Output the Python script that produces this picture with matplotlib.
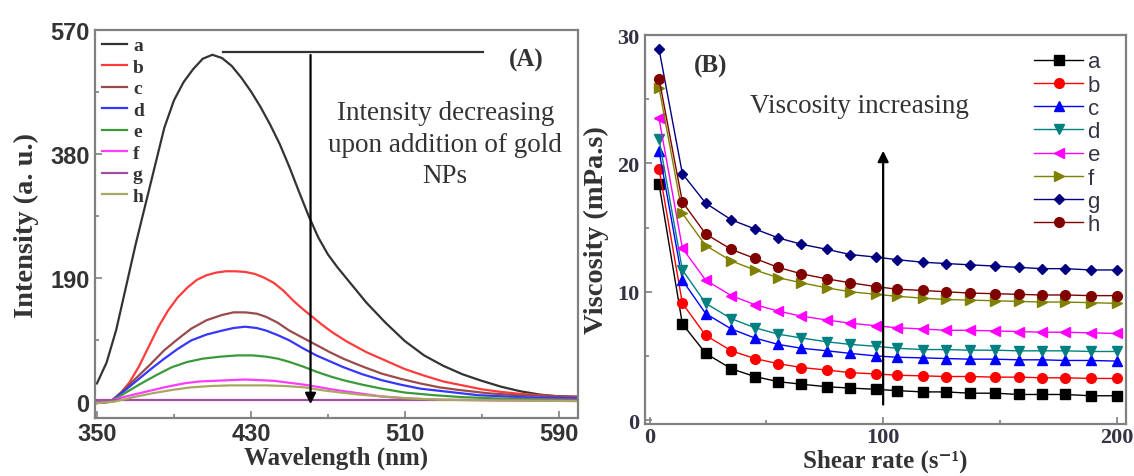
import matplotlib
matplotlib.use('Agg')
import matplotlib.pyplot as plt
from matplotlib.ticker import MultipleLocator

# panel A: emission spectra
wl_a = [350, 355, 360, 365, 370, 375, 380, 385, 390, 395, 400, 405, 410, 415, 420, 425, 430, 435,
        440, 445, 450, 455, 460, 465, 470, 475, 480, 490, 500, 510, 520, 530, 540, 550, 560, 570,
        580, 590, 600]
int_a = [28, 60, 110, 175, 240, 300, 360, 420, 462, 490, 510, 526, 532, 527, 515, 497, 476, 452,
         425, 395, 360, 322, 285, 252, 226, 206, 188, 152, 121, 93, 71, 55, 42, 32, 23, 16,
         11, 8, 5]
wl_b = [350, 357, 362, 367, 372, 377, 382, 387, 392, 397, 402, 407, 412, 417, 422, 427, 432, 437,
        442, 447, 452, 457, 462, 467, 472, 480, 490, 500, 510, 520, 530, 540, 550, 560, 570, 580,
        590, 600]
int_b = [-2, 0, 12, 30, 55, 85, 115, 140, 160, 175, 187, 194, 198, 200, 200, 199, 196, 190,
         182, 170, 155, 142, 130, 118, 107, 92, 76, 63, 50, 40, 31, 25, 19, 15, 12, 10,
         8, 6]
wl_c = [350, 357, 364, 371, 378, 385, 392, 399, 407, 415, 421, 427, 433, 438, 444, 450, 457, 464,
        471, 478, 488, 498, 508, 518, 528, 538, 553, 568, 585, 600]
int_c = [-2, 0, 18, 38, 58, 79, 96, 112, 125, 133, 137, 137, 135, 130, 121, 109, 98, 87,
         76, 66, 54, 43, 35, 28, 22, 18, 13, 10, 9, 8]
wl_d = [350, 357, 364, 371, 378, 385, 392, 399, 407, 415, 421, 427, 433, 438, 444, 450, 457, 464,
        471, 478, 488, 498, 508, 518, 533, 548, 570, 600]
int_d = [-2, 0, 16, 33, 50, 66, 81, 94, 103, 109, 113, 115, 113, 109, 102, 94, 82, 71,
         62, 53, 42, 33, 26, 20, 15, 10, 7, 5]
wl_e = [350, 357, 365, 373, 381, 389, 397, 405, 414, 423, 431, 438, 444, 450, 457, 464, 471, 478,
        488, 498, 510, 525, 540, 558, 600]
int_e = [-2, 0, 14, 28, 41, 53, 61, 66, 69, 71, 71, 69, 66, 61, 54, 46, 39, 33,
         26, 20, 14, 10, 7, 5, 3]
wl_f = [350, 355, 365, 375, 385, 395, 403, 411, 419, 427, 435, 442, 450, 458, 466, 474, 486, 498,
        512, 528, 560, 600]
int_f = [-2, 0, 8, 15, 22, 28, 31, 32, 33, 34, 33, 32, 29, 26, 22, 18, 13, 8,
         5, 3, 2, 1]
wl_g = [350, 600]
int_g = [2, 2]
wl_h = [350, 359, 369, 379, 389, 399, 409, 419, 429, 438, 448, 458, 466, 474, 486, 498, 512, 528,
        560, 600]
int_h = [-2, 0, 7, 13, 18, 22, 24, 25, 25, 25, 24, 22, 18, 15, 11, 8, 5, 3,
         2, 1]

spec_labels = ['a', 'b', 'c', 'd', 'e', 'f', 'g', 'h']
spec_colors = ['#333333', '#ff3b3b', '#9a4a4a', '#3636ff', '#3a9a3a', '#ff3cff', '#a050a0', '#a8a860']
wl_ticks = [350, 430, 510, 590]
int_ticks = [0, 190, 380, 570]

# panel B: viscosity vs shear rate
shear = [4, 14, 24, 35, 45, 55, 65, 76, 86, 97, 106, 117, 127, 137, 148, 158, 168, 178, 189, 200]
visc_a = [18.4, 7.5, 5.2, 4.0, 3.4, 3.0, 2.8, 2.6, 2.5, 2.4, 2.3, 2.2, 2.2, 2.1, 2.1, 2.0, 2.0, 2.0, 1.9, 1.9]
visc_b = [19.6, 9.1, 6.6, 5.4, 4.8, 4.4, 4.1, 3.9, 3.7, 3.6, 3.5, 3.45, 3.4, 3.4, 3.35, 3.35, 3.3, 3.3, 3.25, 3.25]
visc_c = [21.0, 10.9, 8.3, 7.1, 6.4, 5.9, 5.6, 5.4, 5.2, 5.0, 4.9, 4.85, 4.8, 4.75, 4.75, 4.7, 4.7, 4.65, 4.65, 4.6]
visc_d = [21.9, 11.7, 9.1, 7.9, 7.2, 6.7, 6.4, 6.1, 5.9, 5.75, 5.6, 5.5, 5.5, 5.45, 5.45, 5.4, 5.4, 5.4, 5.35, 5.35]
visc_e = [23.5, 13.4, 10.9, 9.7, 9.0, 8.5, 8.1, 7.8, 7.55, 7.35, 7.2, 7.1, 7.0, 7.0, 6.95, 6.9, 6.85, 6.85, 6.8, 6.75]
visc_f = [25.9, 16.1, 13.6, 12.4, 11.7, 11.1, 10.7, 10.3, 10.0, 9.8, 9.65, 9.5, 9.4, 9.35, 9.3, 9.25, 9.2, 9.2, 9.15, 9.1]
visc_g = [28.9, 19.2, 16.9, 15.6, 14.9, 14.2, 13.7, 13.3, 12.9, 12.7, 12.5, 12.3, 12.2, 12.1, 12.0, 11.9, 11.8, 11.8, 11.7, 11.7]
visc_h = [26.6, 17.0, 14.5, 13.3, 12.6, 11.9, 11.4, 11.0, 10.7, 10.4, 10.2, 10.1, 10.0, 9.9, 9.85, 9.8, 9.75, 9.75, 9.7, 9.7]

visc_colors = ['black', 'red', 'blue', '#008080', 'magenta', '#808000', '#000080', '#800000']
visc_markers = ['s', 'o', '^', 'v', '<', '>', 'D', 'o']

serif = 'Liberation Serif'
sans = 'Liberation Sans'
spine_col = '#808080'

fig = plt.figure(figsize=(11.34, 4.77), dpi=100)
ax1 = fig.add_axes([0.0838, 0.1216, 0.4259, 0.8134])
ax2 = fig.add_axes([0.5688, 0.109, 0.4241, 0.8155])

for ax in (ax1, ax2):
    for s in ax.spines.values():
        s.set_color(spine_col)
        s.set_linewidth(1.6)
    ax.tick_params(which='both', direction='in', color=spine_col, width=1.2,
                   top=False, right=False)
    ax.tick_params(which='major', length=5)
    ax.tick_params(which='minor', length=3)

# ---- panel A ----
spectra = [(wl_a, int_a), (wl_b, int_b), (wl_c, int_c), (wl_d, int_d),
           (wl_e, int_e), (wl_f, int_f), (wl_g, int_g), (wl_h, int_h)]
for (x, y), lab, col in zip(spectra, spec_labels, spec_colors):
    ax1.plot(x, y, color=col, lw=1.6, label=lab)

ax1.set_xlim(349, 600)
ax1.set_ylim(-25, 570)
ax1.set_xticks(wl_ticks)
ax1.set_xticks([390, 470, 550], minor=True)
ax1.set_yticks(int_ticks)
ax1.set_yticks([95, 285, 475], minor=True)
for lab in ax1.get_xticklabels() + ax1.get_yticklabels():
    lab.set_fontfamily(sans)
    lab.set_fontweight('bold')
    lab.set_fontsize(17)
    lab.set_color('#333333')
ax1.tick_params(axis='x', pad=3)
ax1.tick_params(axis='y', pad=4)

ax1.set_xlabel('Wavelength (nm)', family=serif, weight='bold', fontsize=18, color='#333333', labelpad=0)
ax1.set_ylabel('Intensity (a. u.)', family=serif, weight='bold', fontsize=20.5, color='#333333', labelpad=8)

leg1 = ax1.legend(loc='upper left', frameon=False, handlelength=1.3, handletextpad=0.3,
                  labelspacing=0.2, borderaxespad=0.2, borderpad=0.15,
                  prop={'family': serif, 'weight': 'bold', 'size': 14})
for t in leg1.get_texts():
    t.set_color('#333333')

ax1.plot([415.5, 550.6], [536, 536], color='#333333', lw=1.6)
ax1.annotate('', xy=(461, -8), xytext=(461, 536),
             arrowprops=dict(arrowstyle='-|>', color='black', lw=1.6, mutation_scale=16))
ax1.text(531, 395, 'Intensity decreasing\nupon addition of gold\nNPs', family=serif,
         fontsize=19.5, color='#333333', ha='center', va='center', linespacing=1.35)
ax1.text(573, 525, '(A)', family=serif, weight='bold', fontsize=18, color='#333333',
         ha='center', va='center')

# ---- panel B ----
viscs = [visc_a, visc_b, visc_c, visc_d, visc_e, visc_f, visc_g, visc_h]
for v, lab, col, mk in zip(viscs, spec_labels, visc_colors, visc_markers):
    ms = 5.5 if mk == 'D' else 7
    ax2.plot(shear, v, color=col, lw=1.0, marker=mk, markersize=ms, label=lab)

ax2.set_xlim(-2, 204)
ax2.set_ylim(-0.3, 30)
ax2.xaxis.set_major_locator(MultipleLocator(100))
ax2.xaxis.set_minor_locator(MultipleLocator(50))
ax2.yaxis.set_major_locator(MultipleLocator(10))
ax2.yaxis.set_minor_locator(MultipleLocator(5))
for lab in ax2.get_xticklabels() + ax2.get_yticklabels():
    lab.set_fontfamily(serif)
    lab.set_fontweight('bold')
    lab.set_fontsize(16)
    lab.set_color('#333344')
ax2.tick_params(axis='x', pad=2)
ax2.tick_params(axis='y', pad=4)

ax2.set_xlabel('Shear rate (s\u207b\u00b9)', family=[serif, 'DejaVu Serif'], weight='bold',
               fontsize=18, color='#333333', labelpad=1)
ax2.set_ylabel('Viscosity (mPa.s)', family=serif, weight='bold', fontsize=20.5, color='#333333',
               labelpad=6)

leg2 = ax2.legend(loc='upper right', bbox_to_anchor=(0.96, 0.975), frameon=False,
                  handlelength=2.2, handletextpad=0.2, labelspacing=0.1, borderaxespad=0.0,
                  borderpad=0.3, prop={'family': sans, 'size': 16})
for t in leg2.get_texts():
    t.set_color('#333344')

ax2.annotate('', xy=(100, 21.2), xytext=(100, 1.0),
             arrowprops=dict(arrowstyle='-|>', color='black', lw=1.6, mutation_scale=16))
ax2.text(90, 24.5, 'Viscosity increasing', family=serif, fontsize=19.5, color='#333333',
         ha='center', va='center')
ax2.text(26, 27.6, '(B)', family=serif, weight='bold', fontsize=18, color='#333333',
         ha='center', va='center')

fig.savefig('out.png', dpi=100)
